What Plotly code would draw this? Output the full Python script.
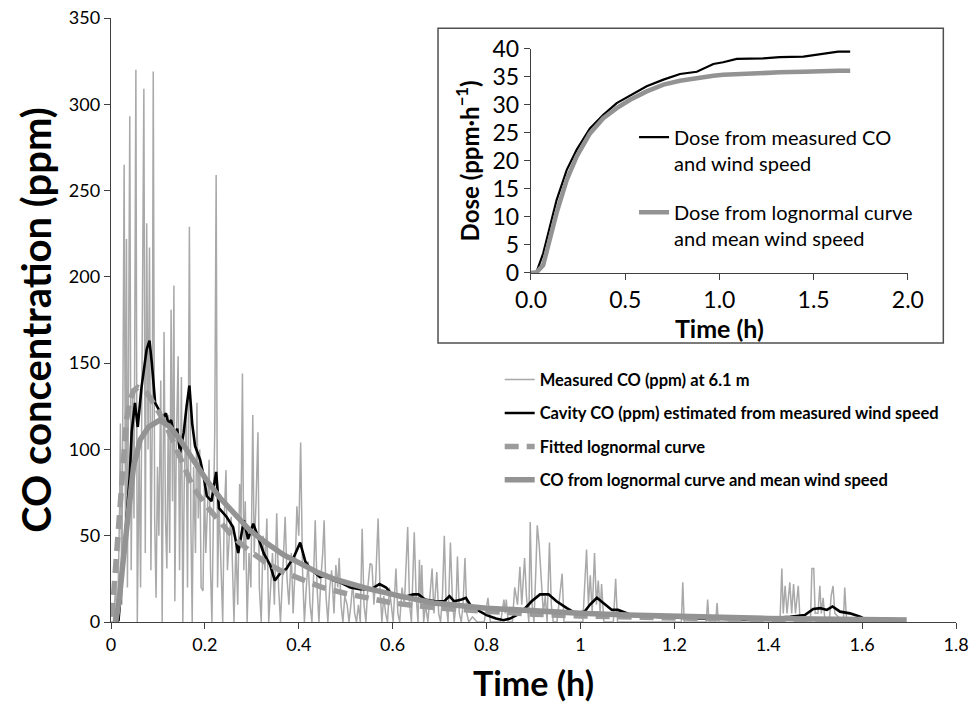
import plotly.graph_objects as go

# ---------------- data ----------------
meas_time = [
    0.000, 0.005, 0.010, 0.014, 0.018, 0.020, 0.023, 0.026, 0.028, 0.031,
    0.033, 0.035, 0.038, 0.040, 0.043, 0.046, 0.049, 0.053, 0.056, 0.060,
    0.063, 0.066, 0.070, 0.073, 0.076, 0.079, 0.082, 0.085, 0.088, 0.090,
    0.093, 0.096, 0.099, 0.102, 0.106, 0.109, 0.113, 0.116, 0.119, 0.122,
    0.125, 0.128, 0.131, 0.134, 0.136, 0.139, 0.143, 0.146, 0.150, 0.153,
    0.156, 0.160, 0.163, 0.167, 0.170, 0.173, 0.176, 0.180, 0.183, 0.186,
    0.189, 0.192, 0.196, 0.199, 0.202, 0.206, 0.209, 0.212, 0.215, 0.218,
    0.221, 0.224, 0.227, 0.230, 0.234, 0.238, 0.241, 0.245, 0.248, 0.252,
    0.256, 0.259, 0.262, 0.266, 0.270, 0.274, 0.277, 0.280, 0.283, 0.286,
    0.290, 0.294, 0.298, 0.302, 0.305, 0.309, 0.313, 0.316, 0.320, 0.324,
    0.328, 0.332, 0.336, 0.340, 0.344, 0.348, 0.353, 0.357, 0.361, 0.366,
    0.371, 0.375, 0.379, 0.384, 0.388, 0.392, 0.396, 0.400, 0.404, 0.408,
    0.412, 0.416, 0.420, 0.424, 0.428, 0.432, 0.435, 0.439, 0.443, 0.447,
    0.451, 0.454, 0.458, 0.462, 0.466, 0.470, 0.475, 0.479, 0.483, 0.486,
    0.490, 0.494, 0.498, 0.503, 0.507, 0.511, 0.515, 0.519, 0.523, 0.527,
    0.531, 0.535, 0.539, 0.543, 0.547, 0.552, 0.556, 0.560, 0.564, 0.569,
    0.573, 0.577, 0.581, 0.585, 0.589, 0.593, 0.597, 0.601, 0.607, 0.611,
    0.615, 0.620, 0.625, 0.632, 0.636, 0.640, 0.646, 0.650, 0.654, 0.657,
    0.660, 0.662, 0.666, 0.670, 0.675, 0.680, 0.684, 0.688, 0.694, 0.698,
    0.702, 0.706, 0.710, 0.714, 0.718, 0.723, 0.727, 0.731, 0.735, 0.738,
    0.742, 0.746, 0.750, 0.754, 0.758, 0.762, 0.770, 0.780, 0.795, 0.803,
    0.808, 0.830, 0.837, 0.840, 0.842, 0.846, 0.855, 0.860, 0.866, 0.871,
    0.875, 0.881, 0.885, 0.890, 0.893, 0.897, 0.901, 0.905, 0.908, 0.912,
    0.915, 0.918, 0.921, 0.925, 0.929, 0.934, 0.938, 0.942, 0.950, 0.961,
    0.965, 0.990, 1.005, 1.013, 1.017, 1.021, 1.025, 1.030, 1.034, 1.038,
    1.042, 1.045, 1.050, 1.070, 1.075, 1.079, 1.215, 1.218, 1.221, 1.268,
    1.271, 1.274, 1.288, 1.291, 1.294, 1.425, 1.429, 1.432, 1.436, 1.440,
    1.446, 1.450, 1.454, 1.458, 1.464, 1.468, 1.490, 1.493, 1.497, 1.500,
    1.506, 1.510, 1.513, 1.517, 1.521, 1.530, 1.534, 1.538, 1.542, 1.560,
    1.563, 1.567, 1.690,
]
meas_co = [
    0, 0, 20, 0, 60, 115, 10, 140, 265, 40,
    222, 20, 150, 293, 30, 130, 60, 320, 0, 100,
    20, 160, 309, 40, 231, 100, 217, 30, 120, 319,
    60, 14, 90, 50, 140, 0, 168, 60, 31, 120,
    40, 181, 70, 195, 12, 100, 154, 30, 142, 0,
    80, 120, 20, 229, 60, 0, 90, 40, 127, 60,
    100, 20, 18, 80, 40, 70, 94, 30, 0, 60,
    110, 259, 20, 70, 40, 0, 60, 88, 30, 50,
    61, 20, 0, 45, 10, 80, 60, 144, 30, 70,
    0, 40, 20, 120, 40, 70, 110, 20, 0, 50,
    30, 60, 0, 20, 40, 10, 63, 20, 0, 30,
    61, 25, 10, 40, 5, 30, 67, 50, 104, 30,
    0, 20, 35, 10, 0, 30, 59, 20, 0, 25,
    40, 59, 15, 0, 20, 30, 5, 33, 20, 37,
    10, 0, 15, 10, 0, 10, 23, 5, 0, 10,
    0, 54, 10, 0, 20, 34, 33, 10, 25, 60,
    20, 0, 15, 5, 0, 20, 10, 0, 31, 5,
    0, 20, 10, 55, 10, 0, 52, 15, 0, 36,
    10, 33, 0, 10, 0, 15, 31, 5, 29, 5,
    0, 15, 50, 10, 0, 46, 15, 0, 10, 38,
    5, 0, 10, 37, 5, 0, 3, 0, 0, 14,
    0, 0, 13, 5, 13, 0, 0, 20, 10, 32,
    10, 37, 15, 0, 58, 10, 0, 30, 56, 45,
    30, 20, 5, 15, 0, 46, 10, 0, 0, 28,
    0, 0, 0, 42, 10, 27, 5, 40, 10, 24,
    5, 22, 0, 0, 25, 0, 0, 23, 0, 0,
    13, 0, 0, 11, 0, 0, 31, 5, 21, 5,
    23, 5, 22, 5, 21, 0, 0, 31, 31, 5,
    5, 21, 5, 14, 0, 0, 15, 21, 5, 0,
    20, 0, 0,
]

cav_time = [
    0.010, 0.016, 0.025, 0.033, 0.040, 0.044, 0.051, 0.057, 0.065, 0.072,
    0.076, 0.082, 0.087, 0.094, 0.104, 0.110, 0.117, 0.122, 0.128, 0.135,
    0.141, 0.147, 0.155, 0.161, 0.167, 0.173, 0.179, 0.190, 0.197, 0.204,
    0.214, 0.224, 0.230, 0.246, 0.260, 0.271, 0.283, 0.292, 0.303, 0.311,
    0.325, 0.339, 0.349, 0.360, 0.374, 0.390, 0.403, 0.414, 0.424, 0.445,
    0.459, 0.475, 0.488, 0.510, 0.530, 0.555, 0.572, 0.586, 0.598, 0.620,
    0.644, 0.655, 0.669, 0.690, 0.710, 0.721, 0.731, 0.747, 0.756, 0.765,
    0.780, 0.800, 0.820, 0.836, 0.850, 0.864, 0.879, 0.896, 0.914, 0.932,
    0.949, 0.971, 0.990, 1.009, 1.020, 1.035, 1.049, 1.067, 1.080, 1.099,
    1.110, 1.150, 1.250, 1.350, 1.447, 1.478, 1.496, 1.511, 1.525, 1.537,
    1.553, 1.574, 1.596, 1.610, 1.620,
]
cav_co = [
    0, 1, 30, 59, 85, 110, 127, 113, 136, 150,
    158, 163, 150, 127, 122, 118, 121, 115, 117, 108,
    112, 98, 110, 125, 137, 115, 102, 94, 85, 73,
    70, 87, 66, 61, 55, 40, 59, 48, 57, 51,
    40, 33, 24, 28, 31, 38, 46, 35, 31, 26,
    27, 24, 23, 20, 19, 19, 22, 20, 16, 14,
    16, 16, 13, 12, 12, 15, 12, 13, 14, 10,
    7, 4, 2, 1, 2, 4, 7, 12, 16, 16,
    12, 8, 5, 6, 10, 14, 11, 7, 7, 5,
    4, 3, 2, 1.5, 3, 4, 7.5, 8, 7, 9,
    6, 5, 3, 1, 0.5,
]

fit_time = [
    0.002, 0.005, 0.012, 0.023, 0.033, 0.040, 0.048, 0.057, 0.066, 0.076,
    0.097, 0.119, 0.147, 0.175, 0.204, 0.232, 0.261, 0.296, 0.332, 0.367,
    0.410, 0.45, 0.50, 0.55, 0.60, 0.70, 0.80, 0.90, 1.00, 1.10,
    1.20, 1.30, 1.40, 1.50, 1.60, 1.69,
]
fit_co = [
    3, 15, 42, 81, 117, 128, 134, 136, 135, 133,
    124, 113, 96, 78, 67, 58, 49, 41, 34, 29,
    24, 20, 16.5, 13.5, 11, 8, 6, 4.5, 3.5, 2.8,
    2.2, 1.8, 1.5, 1.2, 1.0, 0.8,
]

mw_time = [
    0.010, 0.018, 0.026, 0.037, 0.048, 0.062, 0.080, 0.104, 0.126, 0.147,
    0.175, 0.204, 0.232, 0.261, 0.296, 0.332, 0.367, 0.403, 0.438, 0.474,
    0.545, 0.616, 0.687, 0.80, 0.90, 1.00, 1.10, 1.20, 1.30, 1.40,
    1.50, 1.60, 1.695,
]
mw_co = [
    0, 14, 36, 67, 90, 105.6, 113, 117, 113, 105.6,
    94, 82, 72, 63, 53, 45.6, 39, 34, 29, 25,
    19.5, 15, 11, 8, 6.2, 5, 4, 3.2, 2.6, 2.1,
    1.7, 1.4, 1.1,
]

dose_time = [0, 0.03, 0.065, 0.10, 0.136, 0.19, 0.243, 0.313, 0.384, 0.455,
             0.526, 0.614, 0.703, 0.791, 0.88, 0.968, 1.02, 1.092, 1.233, 1.32,
             1.446, 1.50, 1.57, 1.63, 1.694]
dose_measured = [0, 0.2, 3.5, 8.3, 13.0, 18.4, 22.0, 25.8, 28.2, 30.3,
                 31.6, 33.3, 34.5, 35.5, 35.9, 37.3, 37.6, 38.2, 38.3, 38.5,
                 38.6, 38.9, 39.3, 39.5, 39.5]
dose_lognormal = [0, 0.1, 1.4, 5.9, 10.7, 16.6, 20.8, 24.9, 27.6, 29.4,
                  30.9, 32.4, 33.6, 34.3, 34.8, 35.2, 35.35, 35.5, 35.7, 35.8,
                  35.9, 36.0, 36.05, 36.1, 36.1]

main_x_ticks = [0, 0.2, 0.4, 0.6, 0.8, 1.0, 1.2, 1.4, 1.6, 1.8]
main_x_labels = ["0", "0.2", "0.4", "0.6", "0.8", "1", "1.2", "1.4", "1.6", "1.8"]

assert len(meas_time) == len(meas_co)
assert len(cav_time) == len(cav_co)
assert len(fit_time) == len(fit_co)
assert len(mw_time) == len(mw_co)
assert len(dose_time) == len(dose_measured) == len(dose_lognormal)

FONT = "Lato, 'Open Sans', sans-serif"
AX = "#404040"

fig = go.Figure()

fig.add_trace(go.Scatter(x=meas_time, y=meas_co, mode="lines",
                         line=dict(color="#a9a9a9", width=1.5),
                         name="Measured CO (ppm) at 6.1 m", legendgroup="a"))
fig.add_trace(go.Scatter(x=cav_time, y=cav_co, mode="lines",
                         line=dict(color="#000000", width=2.6),
                         name="Cavity CO (ppm) estimated from measured wind speed",
                         legendgroup="b"))
fig.add_trace(go.Scatter(x=fit_time, y=fit_co, mode="lines",
                         line=dict(color="#9c9c9c", width=5.5, dash="14px,8px"),
                         name="Fitted lognormal curve", legendgroup="c"))
fig.add_trace(go.Scatter(x=mw_time, y=mw_co, mode="lines",
                         line=dict(color="#939393", width=5.5),
                         name="CO from lognormal curve and mean wind speed",
                         legendgroup="d"))

fig.add_trace(go.Scatter(x=dose_time, y=dose_measured, mode="lines",
                         line=dict(color="#000000", width=2.2),
                         name="Dose from measured CO<br>and wind speed",
                         xaxis="x2", yaxis="y2", legend="legend2", legendgroup="e"))
fig.add_trace(go.Scatter(x=dose_time, y=dose_lognormal, mode="lines",
                         line=dict(color="#939393", width=4.5),
                         name="Dose from lognormal curve<br>and mean wind speed",
                         xaxis="x2", yaxis="y2", legend="legend2", legendgroup="f"))

axis_common = dict(showline=True, linecolor=AX, linewidth=1.4, ticks="outside",
                   tickcolor=AX, tickwidth=1.4, ticklen=6, showgrid=False,
                   zeroline=False, mirror=False)

fig.update_layout(
    width=972, height=711,
    margin=dict(l=111, r=16, t=18, b=89, autoexpand=False),
    paper_bgcolor="white", plot_bgcolor="white",
    font=dict(family=FONT, color="#000000"),
    showlegend=True,
    xaxis=dict(**axis_common, domain=[0, 1], range=[0, 1.8],
               tickvals=main_x_ticks, ticktext=main_x_labels,
               tickfont=dict(size=18),
               title=dict(text="<b>Time (h)</b>", font=dict(size=34), standoff=18)),
    yaxis=dict(**axis_common, domain=[0, 1], range=[0, 350], dtick=50,
               tickfont=dict(size=18),
               title=dict(text="<b>CO concentration (ppm)</b>", font=dict(size=40), standoff=4)),
    xaxis2=dict(**axis_common, domain=[0.497, 0.943], anchor="y2", range=[0, 2],
                dtick=0.5, tickformat=".1f", tickfont=dict(size=23),
                title=dict(text="<b>Time (h)</b>", font=dict(size=25), standoff=4)),
    yaxis2=dict(**axis_common, domain=[0.578, 0.949], anchor="x2", range=[0, 40],
                dtick=5, tickfont=dict(size=23),
                title=dict(text="<b>Dose (ppm·h<sup>−1</sup>)</b>", font=dict(size=24), standoff=6)),
    legend=dict(x=0.460, y=0.43, xanchor="left", yanchor="top",
                bgcolor="rgba(0,0,0,0)", tracegroupgap=9,
                font=dict(size=16.5, weight="bold"), traceorder="grouped"),
    legend2=dict(x=0.619, y=0.835, xanchor="left", yanchor="top",
                 bgcolor="rgba(0,0,0,0)", tracegroupgap=20, valign="top",
                 font=dict(size=20), traceorder="grouped"),
    shapes=[dict(type="rect", xref="paper", yref="paper",
                 x0=0.387, x1=0.985, y0=0.462, y1=0.983,
                 line=dict(color="#505050", width=1.5), layer="below")],
)

# Remove the default 8px page margin so the 972x711 figure fills the window.
fig.write_html("out.html",
               config={"displayModeBar": False},
               post_script="document.body.style.margin='0';document.body.style.overflow='hidden';")
